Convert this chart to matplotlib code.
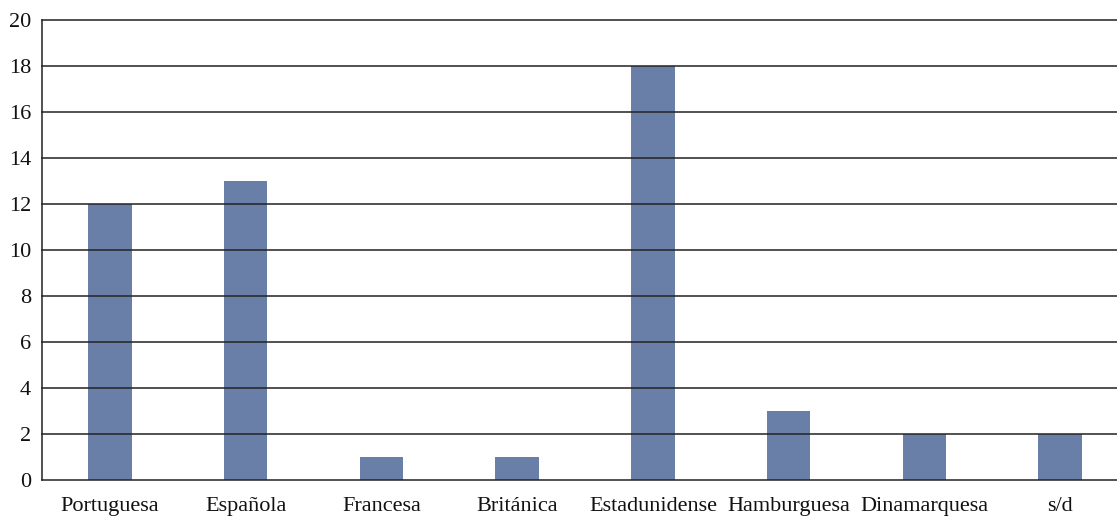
import matplotlib
matplotlib.use("Agg")
import matplotlib.pyplot as plt

categorias = ["Portuguesa", "Española", "Francesa", "Británica",
              "Estadunidense", "Hamburguesa", "Dinamarquesa", "s/d"]
valores = [12, 13, 1, 1, 18, 3, 2, 2]
yticks = list(range(0, 21, 2))

plt.rcParams['font.family'] = ['Liberation Serif', 'DejaVu Serif']

fig = plt.figure(figsize=(11.17, 5.16), dpi=100)
# the plot area runs a little past the right edge of the figure
ax = fig.add_axes([42/1117, 36/516, 1086/1117, 460/516])

x = range(len(categorias))
ax.bar(x, valores, width=0.32, color='#6a7fa8', zorder=1)
for t in yticks[1:]:
    ax.axhline(t, color='#222222', linewidth=1.1, zorder=2, clip_on=False)

ax.set_xlim(-0.5, len(categorias) - 0.5)
ax.set_ylim(0, 20)
ax.set_yticks(yticks)
ax.set_xticks(list(x))
ax.set_xticklabels(categorias)
ax.tick_params(axis='both', length=0, labelsize=16, colors='#111111')
ax.tick_params(axis='x', pad=12)
ax.tick_params(axis='y', pad=8)
for s in ['top', 'right']:
    ax.spines[s].set_visible(False)
ax.spines['left'].set_color('#222222')
ax.spines['bottom'].set_color('#222222')
ax.spines['left'].set_linewidth(1.1)
ax.spines['bottom'].set_linewidth(1.1)

fig.savefig("out.png", dpi=100)
